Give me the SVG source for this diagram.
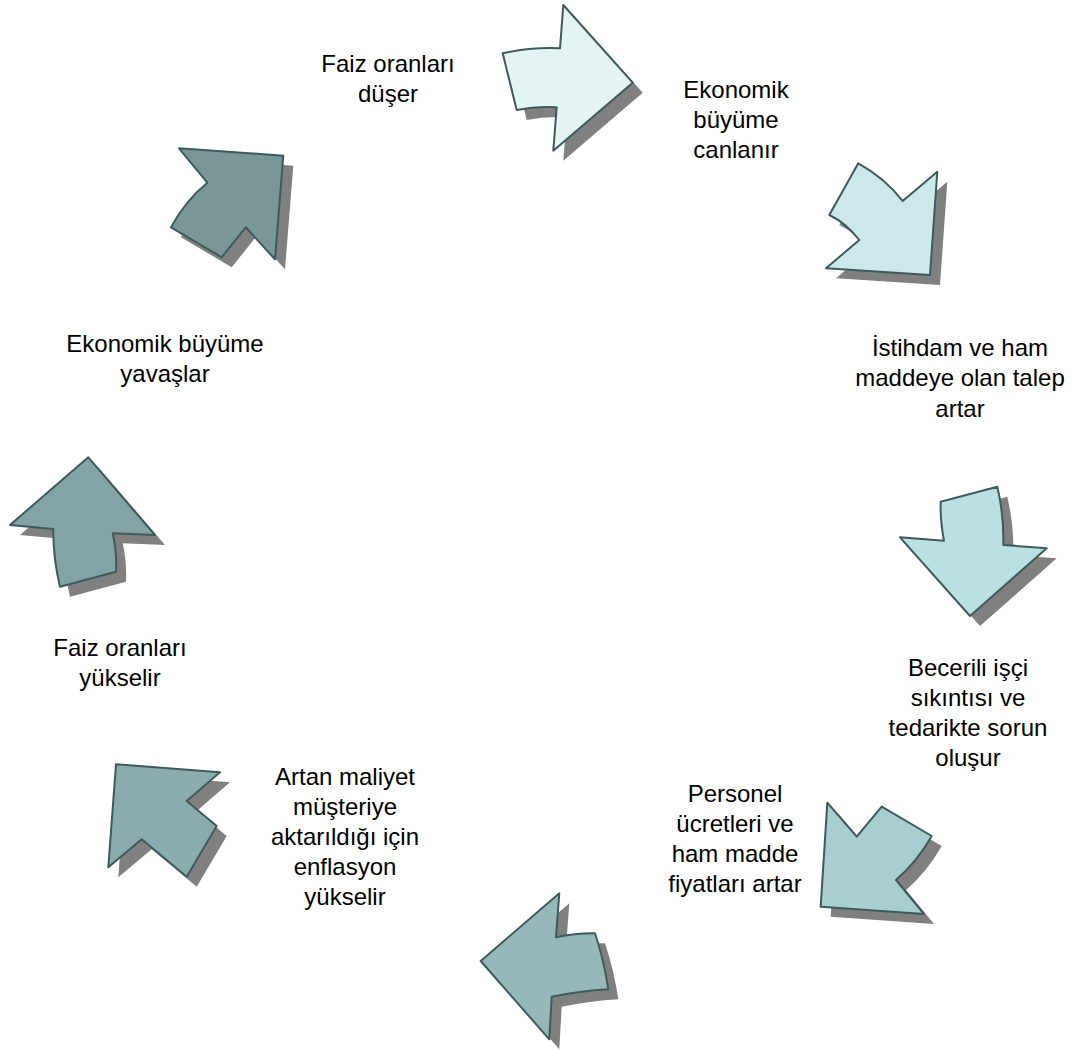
<svg xmlns="http://www.w3.org/2000/svg" width="1083" height="1050" viewBox="0 0 1083 1050">
<style>
.sh{fill:#808080;}
.ar{stroke:#3F5A5B;stroke-width:2;stroke-linejoin:round;}
text{font-family:"Liberation Sans",Arial,sans-serif;font-size:24px;fill:#000;text-anchor:middle;}
</style>
<defs>
<path id="p1" d="M502.7,53.3 Q531,47 560,48.3 L563.3,5 L632.7,82.7 L553.3,150.7 L556.7,107.3 Q536,106 516.7,110 Z"/>
<path id="p2" d="M858.3,163.3 Q885,178 902.7,201 L937.3,171.7 L930,275 L826,268.3 L859.3,240 Q846,223 829.3,215 Z"/>
<path id="p3" d="M940.7,501.7 L997.3,486.7 Q1004,515 1003.3,545 L1046.7,548.3 L970,616 L900,537.3 L944,540.7 Q940,520 940.7,501.7 Z"/>
<path id="p4" d="M827.3,802.7 L856.7,836.7 L881.7,806.7 L931.7,836 Q917,862 896,880 L924,914 L820.7,906.7 Z"/>
<path id="p5" d="M559.3,893.3 L556,937.3 Q576,933 595,933.3 Q604,960 608.3,989.3 Q580,991 551.7,996.7 L549.3,1039.3 L480.7,961 Z"/>
<path id="p6" d="M116,764.3 L220,772.3 L186.7,801 L216.7,826 L186.7,876.7 L141.7,839.3 L108.3,867.3 Z"/>
<path id="p7" d="M88.3,457.3 L155,535 L112.7,533.3 Q117,552 116,571.7 L60,586.7 Q53,558 53.3,529 L10,525 Z"/>
<path id="p8" d="M179,148.3 L283.3,155.7 L275,259.3 L245.7,227.3 L221.7,257.3 L171,227.3 Q185,201 207.3,182.7 Z"/>
</defs>
<g id="nodes">
<g id="arrow1"><use href="#p1" class="sh" transform="translate(10,10)"/><use href="#p1" class="ar" fill="#E4F3F4"/></g>
<g id="arrow2"><use href="#p2" class="sh" transform="translate(10,10)"/><use href="#p2" class="ar" fill="#CDE8EA"/></g>
<g id="arrow3"><use href="#p3" class="sh" transform="translate(10,10)"/><use href="#p3" class="ar" fill="#BBE0E3"/></g>
<g id="arrow4"><use href="#p4" class="sh" transform="translate(10,10)"/><use href="#p4" class="ar" fill="#A9CDD0"/></g>
<g id="arrow5"><use href="#p5" class="sh" transform="translate(10,10)"/><use href="#p5" class="ar" fill="#96B8B9"/></g>
<g id="arrow6"><use href="#p6" class="sh" transform="translate(10,10)"/><use href="#p6" class="ar" fill="#8CABAD"/></g>
<g id="arrow7"><use href="#p7" class="sh" transform="translate(10,10)"/><use href="#p7" class="ar" fill="#84A3A5"/></g>
<g id="arrow8"><use href="#p8" class="sh" transform="translate(10,10)"/><use href="#p8" class="ar" fill="#7A9797"/></g>
</g>
<g id="labels">
<g id="t1"><text x="388" y="72">Faiz oranları</text><text x="388" y="102">düşer</text></g>
<g id="t2"><text x="736" y="98">Ekonomik</text><text x="736" y="128">büyüme</text><text x="736" y="158">canlanır</text></g>
<g id="t3"><text x="960" y="356">İstihdam ve ham</text><text x="960" y="386">maddeye olan talep</text><text x="960" y="417">artar</text></g>
<g id="t4"><text x="968" y="676">Becerili işçi</text><text x="968" y="706">sıkıntısı ve</text><text x="968" y="736">tedarikte sorun</text><text x="968" y="766">oluşur</text></g>
<g id="t5"><text x="735" y="802">Personel</text><text x="735" y="832">ücretleri ve</text><text x="735" y="862">ham madde</text><text x="735" y="892">fiyatları artar</text></g>
<g id="t6"><text x="345" y="785">Artan maliyet</text><text x="345" y="815">müşteriye</text><text x="345" y="845">aktarıldığı için</text><text x="345" y="875">enflasyon</text><text x="345" y="905">yükselir</text></g>
<g id="t7"><text x="165" y="352">Ekonomik büyüme</text><text x="165" y="382">yavaşlar</text></g>
<g id="t8"><text x="120" y="656">Faiz oranları</text><text x="120" y="686">yükselir</text></g>
</g>
<g id="connectors"/>
</svg>
